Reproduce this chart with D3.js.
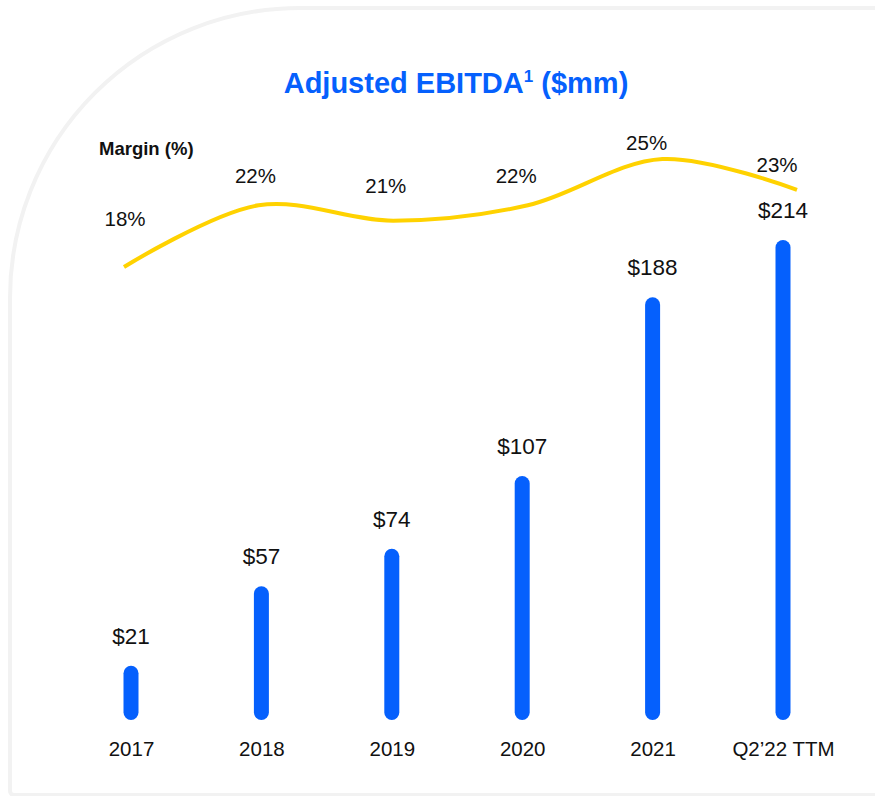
<!DOCTYPE html>
<html>
<head>
<meta charset="utf-8">
<script src="https://cdn.jsdelivr.net/npm/d3@7"></script>
<style>
  html, body { margin: 0; padding: 0; background: #fff; }
  svg { display: block; font-family: "Liberation Sans", Arial, Helvetica, sans-serif; }
</style>
</head>
<body>
<div id="chart"></div>
<script>
// Data
const periods = ["2017", "2018", "2019", "2020", "2021", "Q2\u201922 TTM"];
const ebitda = [21, 57, 74, 107, 188, 214];
const margins = [18, 22, 21, 22, 25, 23];

// 1. layout
const width = 875;
const height = 796;
const baseline = 720;
const barWidth = 15;
const blue = "#0560fd";
const yellow = "#ffd200";

const svg = d3.select("#chart")
    .append("svg")
    .attr("width", width)
    .attr("height", height);

// card outline with the big rounded top-left corner
const r = 290;
const card = d3.path();
card.moveTo(width + 20, 8);
card.lineTo(10 + r, 8);
card.arcTo(10, 8, 10, 8 + r, r);
card.lineTo(10, 791);
card.arcTo(10, 795, 14, 795, 4);
card.lineTo(width + 20, 795);
svg.append("path")
    .attr("d", card.toString())
    .attr("fill", "#fff")
    .attr("stroke", "#f2f2f2")
    .attr("stroke-width", 4);

// 2. scales
const x = d3.scalePoint().domain(periods).range([131, 783]);
const xLine = d3.scalePoint().domain(periods).range([124, 797]);
const yBar = d3.scaleLinear().domain([0, 214]).range([712, 240]);
const yMargin = d3.scaleLinear().domain([18, 25]).range([267, 159]);
const yLabel = d3.scaleLinear().domain([18, 25]).range([226, 150]);

const rows = periods.map((p, i) => ({ period: p, value: ebitda[i], margin: margins[i] }));

// title
const title = svg.append("text")
    .attr("x", 456)
    .attr("y", 93)
    .attr("text-anchor", "middle")
    .attr("fill", blue)
    .style("font-size", "29px")
    .style("font-weight", "bold");
title.append("tspan").text("Adjusted EBITDA");
title.append("tspan")
    .attr("dy", -11)
    .style("font-size", "17px")
    .text("1");
title.append("tspan")
    .attr("dy", 11)
    .text(" ($mm)");

svg.append("text")
    .attr("x", 99)
    .attr("y", 155)
    .attr("fill", "#111")
    .style("font-size", "18.5px")
    .style("font-weight", "bold")
    .text("Margin (%)");

// 3. bars (rounded pills)
svg.selectAll(".bar")
    .data(rows)
    .enter()
    .append("rect")
    .attr("class", "bar")
    .attr("x", d => x(d.period) - barWidth / 2)
    .attr("y", d => yBar(d.value))
    .attr("width", barWidth)
    .attr("height", d => baseline - yBar(d.value))
    .attr("rx", barWidth / 2)
    .attr("fill", blue);

svg.selectAll(".bar-label")
    .data(rows)
    .enter()
    .append("text")
    .attr("class", "bar-label")
    .attr("x", d => x(d.period))
    .attr("y", d => yBar(d.value) - 22)
    .attr("text-anchor", "middle")
    .attr("fill", "#111")
    .style("font-size", "22.5px")
    .text(d => "$" + d.value);

// 4. margin line
const line = d3.line()
    .x(d => xLine(d.period))
    .y(d => yMargin(d.margin))
    .curve(d3.curveCatmullRom.alpha(0.5));

svg.append("path")
    .datum(rows)
    .attr("fill", "none")
    .attr("stroke", yellow)
    .attr("stroke-width", 4)
    .attr("d", line);

svg.selectAll(".margin-label")
    .data(rows)
    .enter()
    .append("text")
    .attr("class", "margin-label")
    .attr("x", d => x(d.period) - 6)
    .attr("y", d => yLabel(d.margin))
    .attr("text-anchor", "middle")
    .attr("fill", "#111")
    .style("font-size", "20.5px")
    .text(d => d.margin + "%");

// 5. category axis
const axis = svg.append("g")
    .attr("transform", `translate(0,${756})`)
    .call(d3.axisBottom(x).tickSize(0).tickPadding(0));
axis.select(".domain").remove();
axis.selectAll("text")
    .attr("y", 0)
    .attr("dy", 0)
    .attr("fill", "#111")
    .style("font-size", "20.5px")
    .style("font-family", "\"Liberation Sans\", Arial, sans-serif");
</script>
</body>
</html>
